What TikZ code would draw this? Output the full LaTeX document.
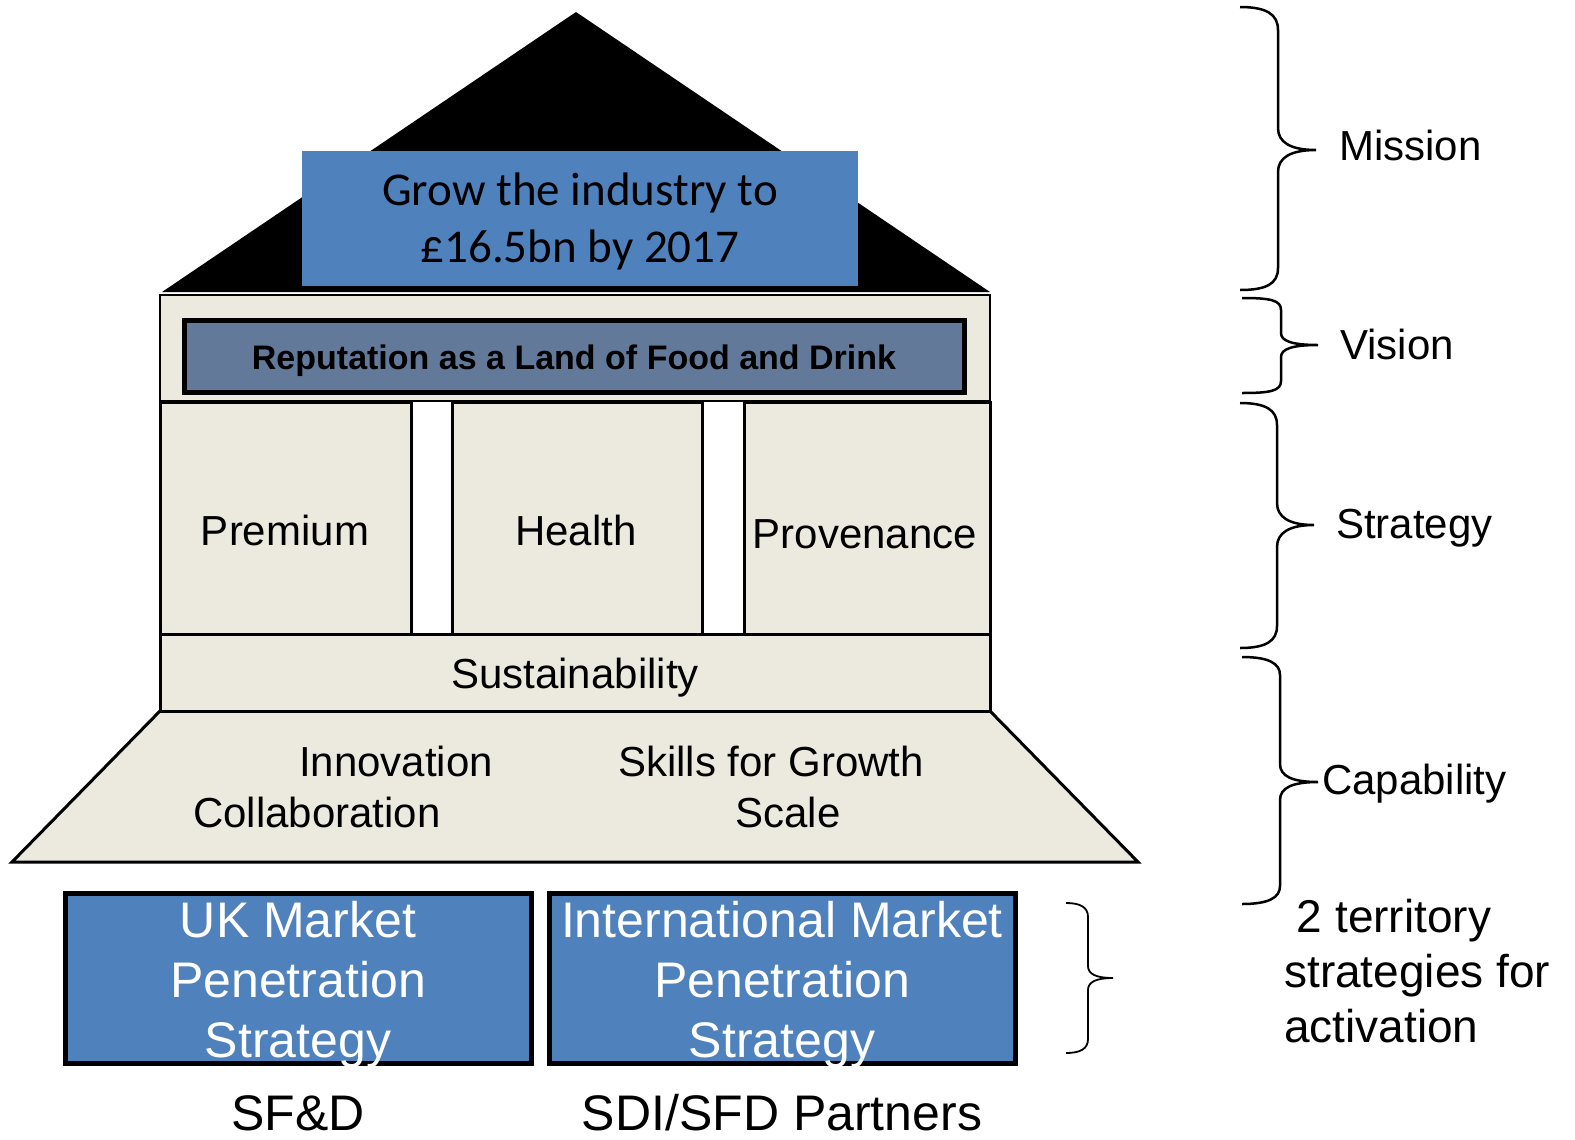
\documentclass[tikz,border=0pt]{standalone}
\usepackage{fontspec}
\setmainfont{Liberation Sans}
\newfontfamily\calibfont{Carlito}
\definecolor{roofblue}{HTML}{4F81BD}
\definecolor{wallcream}{HTML}{ECEADF}
\definecolor{slateblue}{HTML}{627999}

\begin{document}
\begin{tikzpicture}[x=1bp,y=-1bp]
\tikzstyle{every node}+=[inner sep=0pt]
\tikzstyle{lbl}=[font=\fontsize{42bp}{50bp}\selectfont]
\tikzstyle{biglbl}=[font=\fontsize{50bp}{60bp}\selectfont]
\tikzstyle{wall}=[fill=wallcream, draw=black, line width=3bp]
\tikzstyle{bracket}=[draw=black, line width=2.5bp]
\useasboundingbox (0,0) rectangle (1575,1139);
\fill [black] (162,292) -- (576,12) -- (990,292) -- cycle;
\fill [roofblue] (302,151) rectangle (858,286);
\node (goal) [align=center, font=\calibfont\fontsize{47bp}{57bp}\selectfont] at (580,221) {Grow the industry to\\£16.5bn by 2017};
\filldraw [fill=wallcream, draw=black, line width=2bp] (160,295) rectangle (990,401);
\filldraw [fill=slateblue, draw=black, line width=5bp] (184,320) rectangle (964,392);
\node (vision) [anchor=base, font=\bfseries\fontsize{34bp}{40bp}\selectfont] at (574,369) {Reputation as a Land of Food and Drink};
\filldraw [wall] (160,711) -- (990,711) -- (1138,862) -- (12,862) -- cycle;
\filldraw [wall] (160,634) rectangle (990,711);
\filldraw [wall] (160,402) rectangle (411,634);
\filldraw [wall] (452,402) rectangle (702,634);
\filldraw [wall] (744,402) rectangle (990,634);
\node (premium) [lbl, anchor=base] at (285,545) {Premium};
\node (health) [lbl, anchor=base] at (576,545) {Health};
\node (provenance) [lbl, anchor=base] at (865,548) {Provenance};
\node (sustain) [lbl, anchor=base] at (575,688) {Sustainability};
\node (innov) [lbl, anchor=base] at (396,776) {Innovation};
\node (collab) [lbl, anchor=base] at (317,827) {Collaboration};
\node (skills) [lbl, anchor=base] at (771,776) {Skills for Growth};
\node (scale) [lbl, anchor=base] at (788,827) {Scale};
\filldraw [fill=roofblue, draw=black, line width=5bp] (65,893) rectangle (531,1063);
\filldraw [fill=roofblue, draw=black, line width=5bp] (549,893) rectangle (1015,1063);
\node (ukmarket) [biglbl, align=center, text=white] at (298,985) {UK Market\\Penetration\\Strategy};
\node (intmarket) [biglbl, align=center, text=white] at (782,985) {International Market\\Penetration\\Strategy};
\node (sfd) [biglbl, anchor=base] at (298,1130) {SF\&D};
\node (partners) [biglbl, anchor=base] at (782,1130) {SDI/SFD Partners};
\draw [bracket] (1240,7) .. controls (1266,7) and (1278,14) .. (1278,30) -- (1278,128) .. controls (1278,142) and (1290,150) .. (1316,150) .. controls (1290,150) and (1278,158) .. (1278,172) -- (1278,268) .. controls (1278,284) and (1266,290) .. (1240,290);
\draw [bracket] (1242,298) .. controls (1270,298) and (1281,300) .. (1281,310) -- (1281,333) .. controls (1281,341) and (1292,345) .. (1318,345) .. controls (1292,345) and (1281,349) .. (1281,357) -- (1281,381) .. controls (1281,391) and (1270,393) .. (1242,393);
\draw [bracket] (1240,403) .. controls (1266,403) and (1277,410) .. (1277,425) -- (1277,503) .. controls (1277,517) and (1289,525) .. (1314,525) .. controls (1289,525) and (1277,533) .. (1277,547) -- (1277,626) .. controls (1277,641) and (1266,648) .. (1240,648);
\draw [bracket] (1242,657) .. controls (1268,657) and (1280,663) .. (1280,675) -- (1280,764) .. controls (1280,776) and (1292,782) .. (1318,782) .. controls (1292,782) and (1280,788) .. (1280,800) -- (1280,886) .. controls (1280,898) and (1268,904) .. (1242,904);
\draw [bracket, line width=1.8bp] (1066,903) .. controls (1080,903) and (1088,907) .. (1088,917) -- (1088,966) .. controls (1088,974) and (1096,978) .. (1113,978) .. controls (1096,978) and (1088,982) .. (1088,990) -- (1088,1039) .. controls (1088,1049) and (1080,1053) .. (1066,1053);
\node (missionlbl) [lbl, anchor=base west] at (1339,160) {Mission};
\node (visionlbl) [lbl, anchor=base west] at (1340,359) {Vision};
\node (strategylbl) [lbl, anchor=base west] at (1336,538) {Strategy};
\node (capabilitylbl) [lbl, anchor=base west] at (1322,794) {Capability};
\node (territory) [align=left, anchor=west, font=\fontsize{46bp}{55bp}\selectfont] at (1284,971) {~2 territory\\strategies for\\activation};
\end{tikzpicture}
\end{document}
